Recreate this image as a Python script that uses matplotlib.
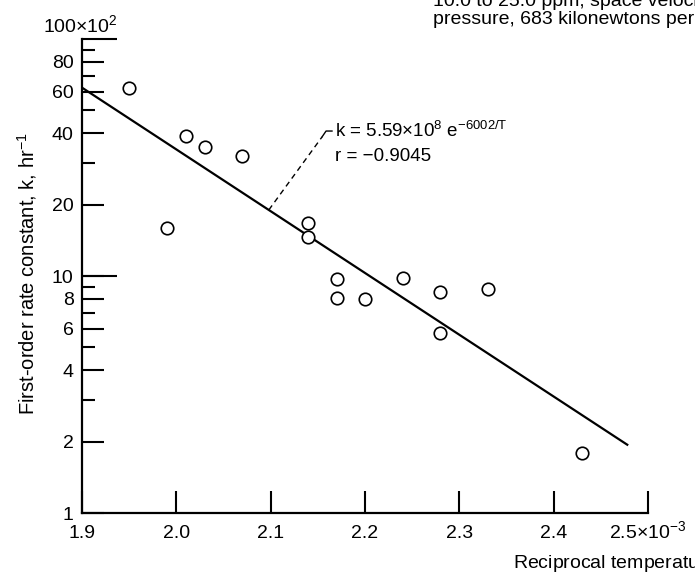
import numpy as np
import matplotlib.pyplot as plt
import matplotlib.transforms as mtransforms

plt.rcParams["font.family"] = ["Liberation Sans", "DejaVu Sans"]
plt.rcParams["font.size"] = 14
plt.rcParams["mathtext.fontset"] = "custom"
plt.rcParams["mathtext.rm"] = "Liberation Sans"
plt.rcParams["mathtext.it"] = "Liberation Sans"

# reciprocal temperature (x10^-3 1/K) and rate constant (x10^2 1/hr)
recip_T = [1.95, 2.01, 2.03, 2.07, 1.99, 2.14, 2.14, 2.17, 2.17, 2.20,
           2.24, 2.28, 2.33, 2.28, 2.43]
rate_k = [62.0, 39.0, 35.0, 32.0, 16.0, 16.7, 14.6, 9.7, 8.1, 8.0,
          9.8, 8.6, 8.8, 5.75, 1.79]

# least-squares fit, k = A exp(-B/T)
fit_A = 5.59e8
fit_B = 6002.0
fit_range = [1.9, 2.478]


def fit_k(x):
    # x in units of 10^-3 1/K, result in units of 10^2 1/hr
    return fit_A * np.exp(-fit_B * np.asarray(x) * 1e-3) / 100


x_ticks = [1.9, 2.0, 2.1, 2.2, 2.3, 2.4, 2.5]
x_ticklabels = ["1.9", "2.0", "2.1", "2.2", "2.3", "2.4", "2.5\u00d710$^{-3}$"]
y_labeled = [1, 2, 4, 6, 8, 10, 20, 40, 60, 80]
y_long = [10, 100]
y_short = [3, 5, 7, 9, 30, 50, 70, 90]

fig = plt.figure(figsize=(6.95, 5.72), dpi=100)
ax = fig.add_axes([0.118, 0.1031, 0.8144, 0.8287])

ax.set_yscale("log")
ax.set_xlim(1.9, 2.5)
ax.set_ylim(1, 100)

ax.spines["top"].set_visible(False)
ax.spines["right"].set_visible(False)
for s in ("left", "bottom"):
    ax.spines[s].set_linewidth(1.6)

ax.set_xticks(x_ticks)
ax.set_xticklabels(x_ticklabels)
ax.xaxis.set_minor_locator(plt.NullLocator())
ax.tick_params(axis="x", direction="in", length=16, width=1.5, pad=18)
for lbl in ax.get_xticklabels():
    lbl.set_verticalalignment("baseline")

ax.set_yticks(y_labeled)
ax.set_yticklabels([str(v) for v in y_labeled])
ax.set_yticks(y_short, minor=True)
ax.tick_params(axis="y", which="major", direction="in", length=16, width=1.5, pad=6)
ax.tick_params(axis="y", which="minor", direction="in", length=9, width=1.5)
ax.yaxis.set_minor_formatter(plt.NullFormatter())

# longer ticks at the decades
trans = mtransforms.blended_transform_factory(ax.transAxes, ax.transData)
for v in y_long:
    ax.plot([0, 0.062], [v, v], color="black", lw=1.5, transform=trans,
            clip_on=False, solid_capstyle="butt")
ax.text(-0.003, 103, "100\u00d710$^2$", transform=trans, ha="center",
        va="bottom")

# data and fitted line
ax.plot(recip_T, rate_k, linestyle="none", marker="o", ms=9,
        mfc="white", mec="black", mew=1.2, zorder=3)
xf = np.array(fit_range)
ax.plot(xf, fit_k(xf), color="black", lw=1.6)

# equation label with dashed leader
x0 = 2.098
ax.plot([x0, 2.1544], [fit_k(x0), 38.6], color="black", lw=1.0, ls=(0, (4, 3)))
ax.plot([2.1544, 2.1587, 2.165], [38.6, 40.9, 40.9], color="black", lw=1.0)
ax.text(2.168, 40.9, "k = 5.59\u00d710$^8$ e$^{-6002/\\mathrm{T}}$", ha="left",
        va="center", fontsize=13.5)
ax.text(2.168, 32.0, "r = \u22120.9045", ha="left", va="center", fontsize=13.5)

fig.text(0.039, 0.521, "First-order rate constant, k, hr$^{-1}$", rotation=90,
         ha="center", va="center", fontsize=14.5)
fig.text(0.738, 0.017, "Reciprocal temperature, 1/T, K$^{-1}$", ha="left",
         va="center", fontsize=14)

fig.text(0.623, 0.998, "10.0 to 25.0 ppm; space velocity,", ha="left",
         va="center", fontsize=14)
fig.text(0.623, 0.966, "pressure, 683 kilonewtons per square meter", ha="left",
         va="center", fontsize=14)

fig.savefig("out.png", dpi=100)
